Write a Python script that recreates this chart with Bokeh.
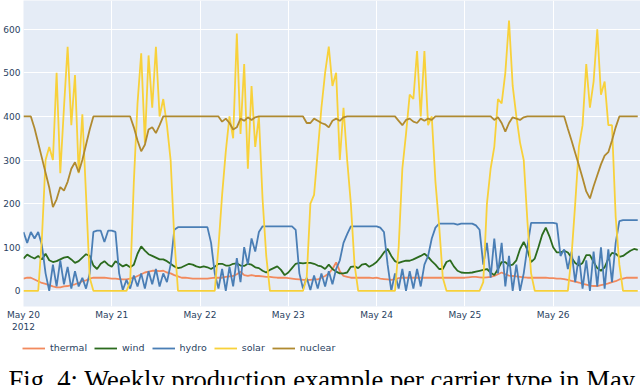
import pandas as pd
from bokeh.plotting import figure
from bokeh.models import (Range1d, FixedTicker, Legend, LegendItem, Label,
                          DatetimeTickFormatter)
from bokeh.embed import file_html
from bokeh.resources import INLINE

# ---------------- data (hourly, May 20 00:00 .. May 26 23:00, 2012) ----------------
start = "2012-05-20 00:00"
n_hours = 168

thermal = [28, 30, 30, 26, 22, 18, 16, 13, 10, 8, 8, 10, 11, 13, 15, 18, 22, 24, 28, 30, 30, 30, 30, 29,
           28, 28, 27, 26, 26, 28, 30, 34, 38, 42, 44, 46, 46, 45, 46, 42, 40, 36, 33, 30, 30, 29, 28, 28,
           28, 28, 28, 29, 30, 30, 30, 32, 33, 34, 38, 44, 36, 34, 36, 34, 34, 33, 32, 32, 31, 30, 30, 30,
           29, 28, 27, 26, 25, 25, 25, 26, 26, 30, 34, 40, 50, 65, 45, 34, 32, 30, 30, 30, 30, 30, 30, 29,
           30, 28, 27, 26, 25, 27, 29, 30, 30, 30, 30, 30, 30, 30, 30, 30, 30, 30, 30, 30, 30, 30, 30, 30,
           30, 31, 32, 32, 31, 30, 31, 32, 34, 38, 42, 38, 35, 34, 33, 32, 31, 30, 30, 30, 30, 30, 30, 29,
           29, 28, 28, 27, 25, 23, 21, 19, 16, 14, 12, 11, 11, 13, 15, 17, 20, 22, 26, 28, 30, 30, 30, 30]

wind = [74, 83, 78, 74, 80, 72, 85, 70, 66, 68, 72, 76, 78, 72, 64, 68, 76, 84, 80, 58, 50, 62, 68, 60,
        55, 68, 62, 56, 60, 54, 60, 85, 102, 92, 84, 80, 76, 72, 72, 68, 62, 56, 52, 54, 58, 62, 60, 56,
        54, 56, 54, 50, 55, 62, 62, 58, 58, 62, 63, 58, 57, 62, 60, 54, 52, 46, 42, 48, 52, 56, 48, 36,
        42, 52, 62, 64, 63, 64, 64, 62, 58, 56, 50, 60, 50, 44, 40, 40, 42, 55, 56, 52, 60, 62, 55, 60,
        66, 76, 88, 96, 80, 68, 64, 67, 69, 69, 72, 76, 80, 85, 78, 68, 60, 50, 50, 66, 70, 56, 46, 42,
        41, 41, 42, 44, 46, 48, 50, 42, 36, 50, 66, 66, 58, 60, 70, 96, 112, 94, 66, 74, 100, 128, 145, 125,
        100, 88, 88, 92, 88, 76, 64, 58, 64, 82, 82, 66, 52, 46, 54, 74, 87, 85, 78, 80, 86, 92, 96, 94]

hydro = [135, 110, 135, 120, 135, 105, 40, 0, 60, 10, 70, 15, 55, 5, 45, 10, 30, 5, 40, 135, 138, 138, 112, 138,
         138, 135, 40, 2, 25, 5, 35, 10, 40, 5, 45, 15, 50, 10, 40, 20, 60, 140, 146, 146, 146, 146, 146, 146,
         146, 146, 146, 110, 40, 5, 50, 0, 55, 10, 75, 20, 100, 60, 120, 90, 135, 148, 148, 148, 148, 148, 148, 148,
         148, 148, 140, 40, 5, 30, 2, 35, 5, 40, 10, 45, 15, 50, 70, 110, 130, 148, 148, 148, 148, 148, 148, 148,
         148, 145, 135, 60, 0, 40, 5, 50, 0, 45, 5, 50, 10, 60, 80, 120, 145, 154, 154, 154, 154, 154, 152, 154,
         154, 154, 154, 150, 140, 60, 110, 30, 120, 40, 110, 10, 80, 0, 60, 0, 40, 100, 156, 156, 156, 156, 156, 156,
         156, 154, 80, 95, 50, 90, 20, 80, 5, 70, 0, 90, 10, 100, 5, 95, 20, 110, 160, 162, 162, 162, 162, 162]

solar = [0, 0, 0, 0, 0, 120, 300, 330, 300, 500, 270, 420, 560, 380, 495, 270, 405, 220, 30, 0, 0, 0, 0, 0,
         0, 0, 0, 0, 0, 20, 250, 430, 545, 340, 540, 420, 560, 400, 440, 380, 300, 120, 0, 0, 0, 0, 0, 0,
         0, 0, 0, 0, 0, 100, 220, 320, 400, 350, 590, 360, 520, 280, 470, 330, 400, 210, 80, 0, 0, 0, 0, 0,
         0, 0, 0, 0, 0, 30, 200, 220, 320, 420, 500, 560, 470, 500, 300, 420, 300, 200, 60, 0, 0, 0, 0, 0,
         0, 0, 0, 0, 0, 0, 100, 280, 360, 450, 440, 550, 400, 550, 380, 400, 250, 150, 30, 0, 0, 0, 0, 0,
         0, 0, 0, 0, 0, 20, 200, 280, 330, 440, 430, 500, 620, 470, 400, 340, 300, 160, 40, 0, 0, 0, 0, 0,
         0, 0, 0, 0, 0, 80, 200, 330, 380, 520, 420, 480, 600, 450, 480, 380, 380, 170, 60, 0, 0, 0, 0, 0]

nuclear = [400, 400, 400, 373, 339, 305, 271, 237, 192, 210, 238, 230, 250, 280, 295, 272, 300, 335, 370, 400, 400, 400, 400, 400,
           400, 400, 400, 400, 400, 400, 375, 345, 320, 335, 370, 375, 362, 380, 400, 400, 400, 400, 400, 400, 400, 400, 400, 400,
           400, 400, 400, 400, 400, 400, 388, 395, 385, 370, 375, 395, 390, 398, 392, 398, 400, 400, 400, 400, 400, 400, 400, 400,
           400, 400, 400, 400, 400, 385, 385, 395, 390, 385, 382, 375, 390, 395, 390, 398, 400, 400, 400, 400, 400, 400, 400, 400,
           400, 400, 400, 400, 400, 400, 390, 380, 392, 395, 388, 385, 395, 390, 395, 392, 400, 400, 400, 400, 400, 400, 400, 400,
           400, 400, 400, 400, 400, 400, 400, 400, 392, 398, 385, 365, 385, 398, 395, 392, 398, 400, 400, 400, 400, 400, 400, 400,
           400, 400, 400, 400, 372, 345, 316, 288, 259, 228, 212, 240, 265, 290, 310, 318, 345, 375, 400, 400, 400, 400, 400, 400]

series_names = ["thermal", "wind", "hydro", "solar", "nuclear"]
series_values = [thermal, wind, hydro, solar, nuclear]
series_colors = ["#F28A5E", "#2C6B1E", "#4A7EB5", "#F8D13A", "#B08A30"]

tick_days = ["2012-05-20", "2012-05-21", "2012-05-22", "2012-05-23",
             "2012-05-24", "2012-05-25", "2012-05-26"]
y_ticks = [0, 100, 200, 300, 400, 500, 600]
caption = "Fig. 4: Weekly production example per carrier type in May"

# ---------------- main chart ----------------
times = pd.date_range(start, periods=n_hours, freq="h")
x_start = times[0]
x_end = pd.Timestamp("2012-05-26 23:45")

p = figure(width=640, height=336, x_axis_type="datetime",
           output_backend="svg", toolbar_location=None,
           min_border_top=0, min_border_right=0, min_border_left=0,
           min_border_bottom=30)
p.x_range = Range1d(x_start, x_end)
p.y_range = Range1d(-36, 666)

p.background_fill_color = "#E5ECF6"
p.border_fill_color = "white"
p.outline_line_color = None

tick_ms = [float(pd.Timestamp(d).value // 10**6) for d in tick_days]
p.xaxis.ticker = FixedTicker(ticks=tick_ms)
p.xaxis.formatter = DatetimeTickFormatter(days="%b %d", months="%b %d", hours="%b %d")
p.xaxis.major_label_overrides = {tick_ms[0]: "May 20\n2012"}
p.yaxis.ticker = FixedTicker(ticks=y_ticks)

for ax in (p.xaxis[0], p.yaxis[0]):
    ax.axis_line_color = None
    ax.major_tick_line_color = None
    ax.minor_tick_line_color = None
    ax.major_tick_out = 0
    ax.major_tick_in = 0
    ax.minor_tick_out = 0
    ax.minor_tick_in = 0
    ax.major_label_text_color = "#2a3f5f"
    ax.major_label_text_font = "DejaVu Sans"
    ax.major_label_text_font_size = "9px"
p.xaxis.major_label_standoff = 3
p.yaxis.major_label_standoff = 3

p.xgrid.grid_line_color = "white"
p.ygrid.grid_line_color = "white"
p.xgrid.grid_line_width = 1
p.ygrid.grid_line_width = 1

for name, vals, col in zip(series_names, series_values, series_colors):
    p.line(times, vals, line_color=col, line_width=1.8)

# ---------------- legend + caption strip (separate root) ----------------
q = figure(width=640, height=49, output_backend="svg", toolbar_location=None,
           x_axis_location=None, y_axis_location=None,
           min_border_top=0, min_border_right=0, min_border_left=0,
           min_border_bottom=0)
q.x_range = Range1d(x_start, x_end)
q.y_range = Range1d(-2, -1)          # series lie outside this strip's view
q.grid.visible = False
q.outline_line_color = None
q.background_fill_color = "white"
q.border_fill_color = "white"

items = []
for name, vals, col in zip(series_names, series_values, series_colors):
    r = q.line(times, vals, line_color=col, line_width=1.8)
    items.append(LegendItem(label=name, renderers=[r]))

legend = Legend(items=items, orientation="horizontal", location=(22, 32),
                glyph_width=23, glyph_height=10, label_standoff=5, spacing=7,
                padding=2, margin=0, background_fill_alpha=0,
                border_line_color=None, label_text_font="DejaVu Sans",
                label_text_font_size="9.5px", label_text_color="#2a3f5f")
q.add_layout(legend, "center")

q.add_layout(Label(x=8, y=6, x_units="screen", y_units="screen",
                   text=caption, text_font="Liberation Serif",
                   text_font_size="26.6px", text_color="black",
                   text_baseline="alphabetic"))

open("out.html", "w").write(file_html([p, q], INLINE))
